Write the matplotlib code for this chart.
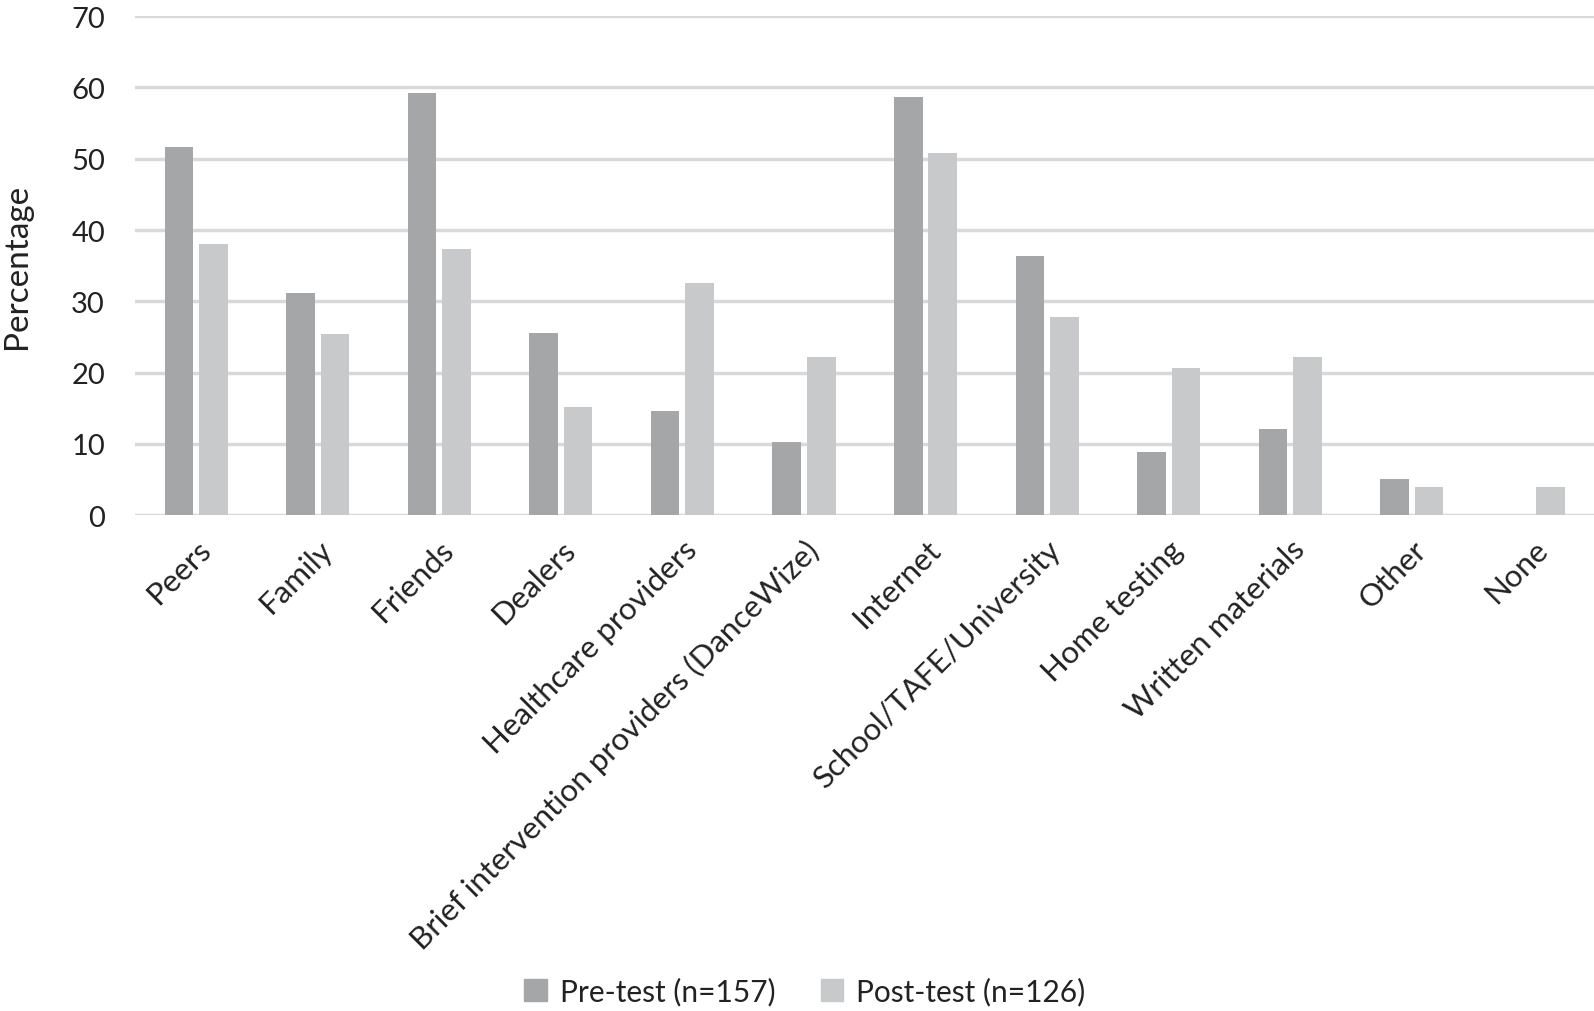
import numpy as np
import matplotlib.pyplot as plt
import matplotlib.transforms as mtransforms
from matplotlib.patches import Patch

plt.rcParams['font.family'] = ['Lato', 'DejaVu Sans']

# source of information, percent of respondents
categories = ["Peers", "Family", "Friends", "Dealers", "Healthcare providers",
              "Brief intervention providers (DanceWize)", "Internet",
              "School/TAFE/University", "Home testing", "Written materials",
              "Other", "None"]
pre_test = [51.6, 31.2, 59.2, 25.5, 14.6, 10.2, 58.6, 36.3, 8.9, 12.1, 5.1, 0.0]
post_test = [38.1, 25.4, 37.3, 15.1, 32.5, 22.2, 50.8, 27.8, 20.6, 22.2, 4.0, 4.0]

PRE_COLOR = "#a5a6a8"
POST_COLOR = "#c8c9cb"
GRID_COLOR = "#d9d9d9"
TEXT_COLOR = "#222222"

fig = plt.figure(figsize=(15.94, 10.12), dpi=100)
ax = fig.add_axes([0.085, 0.49, 0.915, 0.493])

x = np.arange(len(categories))
w = 0.235
ax.bar(x - 0.142, pre_test, width=w, color=PRE_COLOR, zorder=3)
ax.bar(x + 0.142, post_test, width=w, color=POST_COLOR, zorder=3)

ax.set_xlim(-0.5, len(categories) - 0.5)
ax.set_ylim(0, 70)
ax.set_yticks(range(0, 71, 10))
ax.yaxis.grid(True, color=GRID_COLOR, linewidth=2.5, zorder=0)
ax.set_axisbelow(True)
for s in ax.spines.values():
    s.set_visible(False)
ax.tick_params(axis="both", length=0, colors=TEXT_COLOR)
ax.tick_params(axis="y", pad=22, labelsize=21)

ax.set_xticks(x)
ax.set_xticklabels(categories, rotation=45, ha="right", rotation_mode="anchor",
                   fontsize=22.5, color=TEXT_COLOR)
ax.tick_params(axis="x", pad=14)
# shift labels a little so they end just past the category centre
offset = mtransforms.ScaledTranslation(0.0, 0, fig.dpi_scale_trans)
for lbl in ax.get_xticklabels():
    lbl.set_transform(lbl.get_transform() + offset)

ax.set_ylabel("Percentage", fontsize=24, color=TEXT_COLOR)
ax.yaxis.set_label_coords(-0.071, 0.5)

handles = [Patch(color=PRE_COLOR, label="Pre-test (n=157)"),
           Patch(color=POST_COLOR, label="Post-test (n=126)")]
fig.legend(handles=handles, loc="center", bbox_to_anchor=(0.505, 0.02), ncol=2,
           frameon=False, fontsize=21.5, handlelength=0.75, handleheight=0.75,
           handletextpad=0.45, columnspacing=1.5, labelcolor=TEXT_COLOR)

fig.savefig("out.png", dpi=100, facecolor="white")
